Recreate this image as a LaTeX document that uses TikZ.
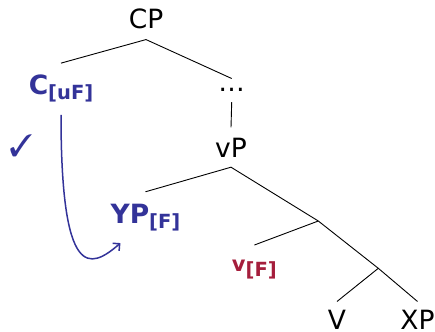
\documentclass[tikz,border=0pt]{standalone}
\usepackage{fontspec}
\setmainfont{DejaVu Sans}
\usepackage{pifont}
\usetikzlibrary{arrows.meta}
\definecolor{sblue}{RGB}{51,51,153}
\definecolor{sred}{RGB}{165,30,60}
\newcommand{\fsub}[1]{\raisebox{-5pt}{\fontsize{19.5}{20}\selectfont #1}}
\begin{document}
\begin{tikzpicture}[x=1pt,y=-1pt,
  tree/.style={inner xsep=0pt,inner ysep=10pt,font=\fontsize{26.5}{30}\selectfont,anchor=base},
  feat/.style={inner xsep=0pt,inner ysep=12pt,font=\fontsize{26.5}{30}\selectfont\bfseries,anchor=base},
  branch/.style={line width=0.9pt},
  move/.style={sblue,line width=1.5pt,-{Straight Barb[length=5pt,width=10pt]}}]
\useasboundingbox (0,0) rectangle (435,331);
\node[tree] (cp) at (146,29) {CP};
\node[feat,text=sblue] (c) at (61,95) {C\fsub{[uF]}};
\node[tree] (dots) at (231.7,92) {…};
\node[tree] (vp) at (231,157) {vP};
\node[feat,text=sblue] (yp) at (145.5,223.3) {YP\fsub{[F]}};
\node[feat,text=sred,font=\fontsize{21}{24}\selectfont\bfseries,inner ysep=15pt] (v) at (254.4,271.7) {v\fsub{[F]}};
\node[tree,inner ysep=0pt] (V) at (337,329) {V};
\node[tree,inner ysep=0pt] (xp) at (417.5,329) {XP};
\coordinate (n1) at (318.3,221);
\coordinate (n2) at (378.3,268.3);
\node[text=sblue,font=\fontsize{31}{32}\selectfont] (chk) at (21,146) {\ding{51}};
\draw[branch] (c.north) -- (cp.south) -- (dots.north);
\draw[branch] (dots.south) -- (vp.north);
\draw[branch] (yp.north) -- (vp.south) -- (n1) -- (n2) -- ([yshift=8pt]xp.north);
\draw[branch] (v.north) -- (n1);
\draw[branch] ([yshift=8pt]V.north) -- (n2);
\draw[move] (c.south) .. controls +(0,165) and +(-31,27) .. ([xshift=10pt]yp.south west);
\end{tikzpicture}
\end{document}
